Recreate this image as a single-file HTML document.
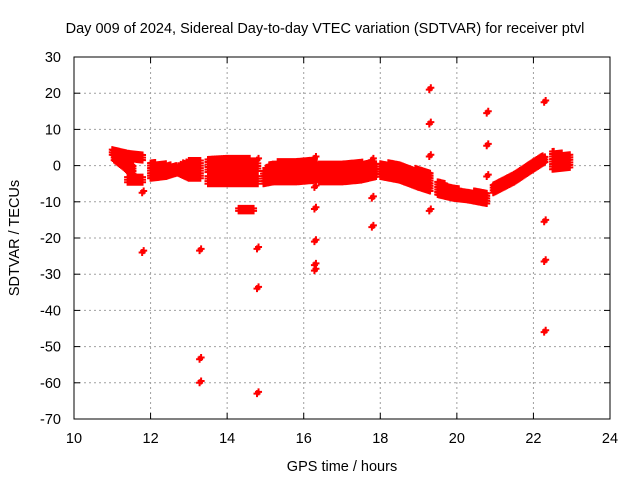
<!DOCTYPE html>
<html><head><meta charset="utf-8"><style>
body{margin:0;background:#fff}
svg{display:block;font-family:"Liberation Sans",sans-serif}
</style></head><body>
<svg width="640" height="480" id="chart">
<g id="grid"></g>
<g id="marks"></g>
<rect x="74" y="57" width="536" height="362" fill="none" stroke="#000" stroke-width="1"/>
<g id="ticks"></g>
<text x="325" y="33" text-anchor="middle" font-size="14.5">Day 009 of 2024, Sidereal Day-to-day VTEC variation (SDTVAR) for receiver ptvl</text>
<text x="342" y="471" text-anchor="middle" font-size="14.5">GPS time / hours</text>
<text transform="translate(19,238) rotate(-90)" text-anchor="middle" font-size="14.5">SDTVAR / TECUs</text>
</svg>
<script>
const xTicks=[10,12,14,16,18,20,22,24];
const yTicks=[30,20,10,0,-10,-20,-30,-40,-50,-60,-70];
// bands: [time, low, high]
const band1a=[[11.0,3,5],[11.4,2,3.5],[11.8,1.5,3]];
const band1b=[[11.05,1.5,4],[11.3,-0.5,2],[11.55,-3,0]];
const band1c=[[11.4,-4.6,-2.8],[11.8,-4.6,-2.8]];
const band2=[[12.0,-3.5,1],[12.4,-3,0.5],[12.7,-2,0],[13.0,-3.5,1.5],[13.3,-3.5,1.5]];
const band3a=[[13.5,-1.8,2],[14.0,-1.5,2],[14.5,-1.5,2.5],[14.8,-1.5,1]];
const band3b=[[13.5,-5,-2.5],[14.0,-5,-2.5],[14.5,-5,-2.5],[14.8,-5,-2.5]];
const band4=[[14.95,-5,-1],[15.2,-4.5,1],[15.8,-4.5,1.5],[16.35,-4,1.5]];
const band5=[[16.4,-4.5,0.5],[17.0,-4.5,1],[17.5,-4,1],[17.9,-3,1]];
const band6=[[18.0,-3,1],[18.5,-4,0.5],[19.0,-6,-1],[19.3,-7,-2]];
const band7=[[19.5,-8,-4],[19.9,-9,-6],[20.3,-9.5,-7],[20.8,-10.5,-7]];
const band8=[[20.95,-7.5,-5],[21.5,-4.5,-2],[22.0,-1,1.5],[22.3,1,3]];
const band9=[[22.5,-1,4],[22.95,-0.5,3]];
const band10=[[14.3,-12.5,-11.5],[14.7,-12.5,-11.5]];
const bands=[band1a,band1b,band1c,band2,band3a,band3b,band4,band5,band6,band7,band8,band9,band10];
const pointTimes=[11.8,11.8,13.3,13.3,13.3,14.8,14.8,14.8,14.8,16.3,16.3,16.3,16.3,16.3,16.3,17.8,17.8,17.8,19.3,19.3,19.3,19.3,20.8,20.8,20.8,22.3,22.3,22.3,22.3];
const pointValues=[-7.5,-24,-23.5,-53.5,-60,1.5,-23,-34,-63,2,-6,-12,-21,-27.5,-29,1.5,-9,-17,21,11.5,2.5,-12.5,14.5,5.5,-3,17.5,-15.5,-26.5,-46];
const NS='http://www.w3.org/2000/svg';
const X=t=>74+(t-10)*536/14, Y=v=>57+(30-v)*362/100;
const grid=document.getElementById('grid'),ticks=document.getElementById('ticks'),marks=document.getElementById('marks');
function mk(tag,a,p){const e=document.createElementNS(NS,tag);for(const k in a)e.setAttribute(k,a[k]);p.appendChild(e);return e;}
xTicks.forEach(t=>{const x=X(t);
 if(t>10&&t<24){const g=mk('line',{x1:x,x2:x,y1:57,y2:419,stroke:'#a0a0a0','stroke-dasharray':'2,3'},grid);
 }
 mk('line',{x1:x,x2:x,y1:419,y2:413,stroke:'#000'},ticks);mk('line',{x1:x,x2:x,y1:57,y2:63,stroke:'#000'},ticks);
 const l=mk('text',{x:x,y:443,'text-anchor':'middle','font-size':'14.5'},ticks);l.textContent=t;
 });
yTicks.forEach(v=>{const y=Y(v);
 if(v<30&&v>-70){const g=mk('line',{x1:74,x2:610,y1:y,y2:y,stroke:'#a0a0a0','stroke-dasharray':'2,3'},grid);
 }
 mk('line',{x1:74,x2:80,y1:y,y2:y,stroke:'#000'},ticks);mk('line',{x1:610,x2:604,y1:y,y2:y,stroke:'#000'},ticks);
 const l=mk('text',{x:61,y:y+5,'text-anchor':'end','font-size':'14.5'},ticks);l.textContent=v;
 });
let d='';
function plus(t,v){const x=X(t),y=Y(v);d+=`M${x-3.5},${y}h7M${x},${y-3.5}v7`;}
bands.forEach(b=>{for(let i=0;i<b.length-1;i++){const [t0,l0,h0]=b[i],[t1,l1,h1]=b[i+1];
 for(let t=t0;t<=t1+1e-9;t+=0.03){const f=(t-t0)/(t1-t0||1),lo=l0+(l1-l0)*f,hi=h0+(h1-h0)*f;
  for(let v=lo;v<=hi+1e-9;v+=0.7)plus(t,v);}}});
pointTimes.forEach((t,i)=>{plus(t-0.02,pointValues[i]);plus(t+0.02,pointValues[i]+0.5);});
const p=mk('path',{d:d,stroke:'#ff0000','stroke-width':'2',fill:'none'},marks);


</script>
</body></html>
